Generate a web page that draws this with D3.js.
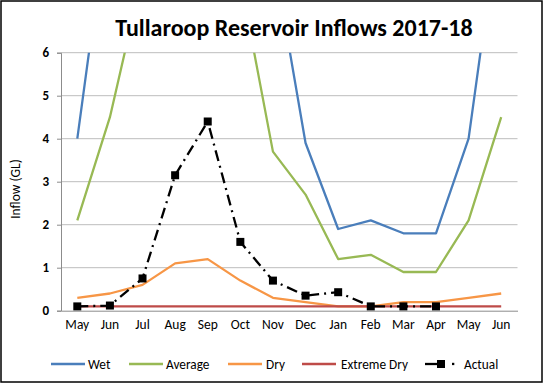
<!DOCTYPE html>
<html><head><meta charset="utf-8">
<script src="https://cdn.jsdelivr.net/npm/d3@7"></script>
<style>
body{margin:0;background:#fff;}
svg{display:block;font-family:Calibri,Carlito,Lato,"Liberation Sans",sans-serif;}
</style></head>
<body>
<script>
const months = ["May","Jun","Jul","Aug","Sep","Oct","Nov","Dec","Jan","Feb","Mar","Apr","May","Jun"];
const wet = [4.0, 9.6, 14, 18, 16, 12, 8.3, 3.9, 1.9, 2.1, 1.8, 1.8, 4.0, 9.5];
const average = [2.1, 4.5, 7.8, 10, 9, 7.7, 3.7, 2.7, 1.2, 1.3, 0.9, 0.9, 2.1, 4.5];
const dry = [0.3, 0.4, 0.6, 1.1, 1.2, 0.7, 0.3, 0.2, 0.1, 0.1, 0.2, 0.2, 0.3, 0.4];
const extremeDry = [0.1, 0.1, 0.1, 0.1, 0.1, 0.1, 0.1, 0.1, 0.1, 0.1, 0.1, 0.1, 0.1, 0.1];
const actual = [0.1, 0.12, 0.75, 3.15, 4.4, 1.6, 0.7, 0.35, 0.43, 0.1, 0.1, 0.1];
const yTicks = [0,1,2,3,4,5,6];
const seriesNames = ["Wet","Average","Dry","Extreme Dry","Actual"];
const colors = {"Wet":"#4A7EBB","Average":"#98B954","Dry":"#F79646","Extreme Dry":"#BE4B48","Actual":"#000"};

const W=543,H=383;
const svg=d3.select("body").append("svg").attr("width",W).attr("height",H);
svg.append("rect").attr("x",1).attr("y",1).attr("width",W-2).attr("height",H-2).attr("fill","#fff").attr("stroke","#000").attr("stroke-width",1.5);

const pLeft=61,pRight=517.5,pTop=52.7,pBottom=310.7;
const x=d3.scaleBand().domain(d3.range(months.length)).range([pLeft,pRight]);
const y=d3.scaleLinear().domain([0,6]).range([pBottom,pTop]);
const cx=i=>x(i)+x.bandwidth()/2;

svg.append("text").attr("x",294).attr("y",35.5).attr("text-anchor","middle")
  .attr("font-size",24).attr("font-weight","bold").text("Tullaroop Reservoir Inflows 2017-18");

// gridlines
svg.append("g").selectAll("line").data(yTicks.filter(d=>d>0)).join("line")
  .attr("x1",pLeft).attr("x2",pRight).attr("y1",d=>y(d)).attr("y2",d=>y(d))
  .attr("stroke","#BDBDBD").attr("stroke-width",1);

// y axis
const ya=svg.append("g").attr("transform",`translate(${pLeft},0)`)
  .call(d3.axisLeft(y).tickValues(yTicks).tickSize(4).tickPadding(8).tickFormat(d3.format("d")));
ya.select(".domain").attr("stroke","#8C8C8C");
ya.selectAll(".tick line").attr("stroke","#8C8C8C");
ya.selectAll("text").attr("font-size",13).attr("font-weight","bold").attr("fill","#000").attr("font-family","Calibri,Carlito,Lato,sans-serif");

// x axis
const xa=svg.append("g").attr("transform",`translate(0,${pBottom})`)
  .call(d3.axisBottom(x).tickFormat(i=>months[i]).tickSize(0).tickPadding(9));
xa.select(".domain").attr("stroke","#8C8C8C");
xa.selectAll("text").attr("font-size",13.5).attr("fill","#000").attr("font-family","Calibri,Carlito,Lato,sans-serif");

svg.append("text").attr("transform","translate(20,189) rotate(-90)").attr("text-anchor","middle")
  .attr("font-size",13.5).text("Inflow (GL)");

svg.append("defs").append("clipPath").attr("id","clip").append("rect")
  .attr("x",pLeft).attr("y",pTop).attr("width",pRight-pLeft).attr("height",pBottom-pTop);

const line=d3.line().x((d,i)=>cx(i)).y(d=>y(d));
const plot=svg.append("g").attr("clip-path","url(#clip)");
[["Wet",wet],["Average",average],["Dry",dry],["Extreme Dry",extremeDry]].forEach(([n,v])=>{
  plot.append("path").attr("d",line(v)).attr("fill","none").attr("stroke",colors[n]).attr("stroke-width",2.3).attr("stroke-linejoin","round");
});
const dash="11,5,2,5";
svg.append("path").attr("d",line(actual)).attr("fill","none").attr("stroke","#000").attr("stroke-width",2.3).attr("stroke-dasharray",dash);
svg.append("g").selectAll("rect").data(actual).join("rect")
  .attr("x",(d,i)=>cx(i)-4).attr("y",d=>y(d)-4).attr("width",8).attr("height",8).attr("fill","#000");

// legend
const ly=364;
const leg=[{n:"Wet",x1:51,x2:85,tx:88},{n:"Average",x1:129,x2:163,tx:166},{n:"Dry",x1:228,x2:262,tx:266},{n:"Extreme Dry",x1:302,x2:336,tx:341}];
leg.forEach(l=>{
  svg.append("line").attr("x1",l.x1).attr("x2",l.x2).attr("y1",ly).attr("y2",ly).attr("stroke",colors[l.n]).attr("stroke-width",2.3);
  svg.append("text").attr("x",l.tx).attr("y",ly+5).attr("font-size",13.3).text(l.n);
});
svg.append("line").attr("x1",425).attr("x2",442).attr("y1",ly).attr("y2",ly).attr("stroke","#000").attr("stroke-width",2.3);
svg.append("rect").attr("x",437).attr("y",ly-4).attr("width",8).attr("height",8).attr("fill","#000");
svg.append("rect").attr("x",452).attr("y",ly-1.2).attr("width",2.3).attr("height",2.3).attr("fill","#000");
svg.append("text").attr("x",464).attr("y",ly+5).attr("font-size",13.3).text("Actual");
</script>
</body></html>
